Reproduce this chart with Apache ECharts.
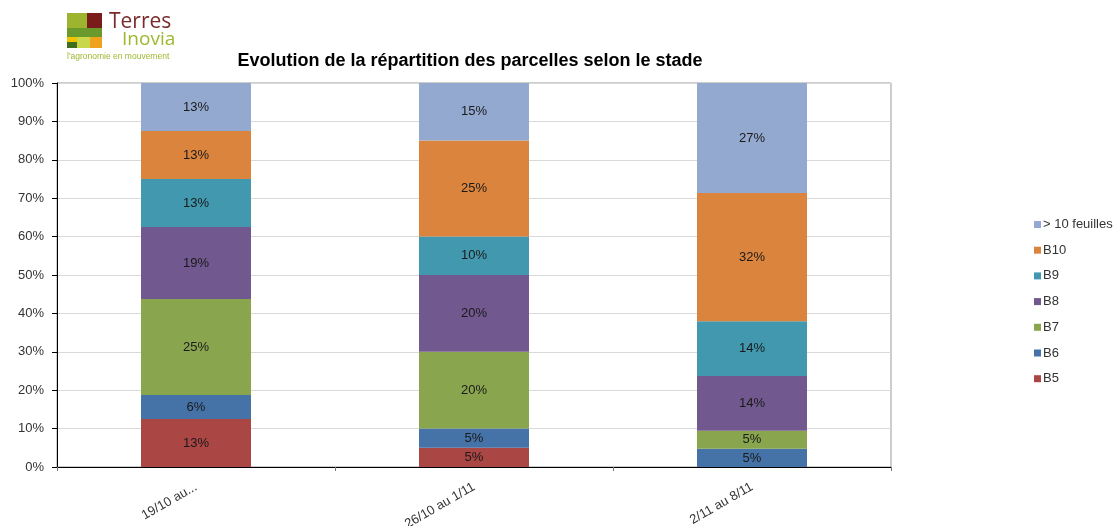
<!DOCTYPE html>
<html>
<head>
<meta charset="utf-8">
<script src="https://cdn.jsdelivr.net/npm/echarts@6/dist/echarts.min.js"></script>
<style>
html,body{margin:0;padding:0;background:#fff;}
#chart{width:1116px;height:526px;}
</style>
</head>
<body>
<div id="chart"></div>
<script>
// ---- Data (values as shown by the data labels, in %) ----
const categories = ['19/10 au...', '26/10 au 1/11', '2/11 au 8/11'];
const seriesNames = ['B5', 'B6', 'B7', 'B8', 'B9', 'B10', '> 10 feuilles'];
const b5 = [12.5, 5, 0];
const b6 = [6.25, 5, 4.5];
const b7 = [25, 20, 4.5];
const b8 = [18.75, 20, 13.6];
const b9 = [12.5, 10, 13.6];
const b10 = [12.5, 25, 31.8];
const over10 = [12.5, 15, 27.3];
const legendOrder = ['> 10 feuilles', 'B10', 'B9', 'B8', 'B7', 'B6', 'B5'];
const colors = ['#AA4643', '#4572A7', '#89A54E', '#71588F', '#4198AF', '#DB843D', '#93A9CF'];

const FONT = 'Liberation Sans, Arial, sans-serif';
const raw = [b5, b6, b7, b8, b9, b10, over10];
// 100% stacked: each category is scaled to a total of 100
const totals = categories.map((c, i) => raw.reduce((s, arr) => s + arr[i], 0));

const series = raw.map((arr, k) => ({
  name: seriesNames[k],
  type: 'bar',
  stack: 'total',
  barWidth: 110,
  itemStyle: { color: colors[k] },
  label: {
    show: true,
    position: 'inside',
    color: '#1a1a1a',
    fontFamily: FONT,
    fontSize: 13,
    formatter: p => raw[k][p.dataIndex] > 0 ? Math.round(raw[k][p.dataIndex]) + '%' : ''
  },
  data: arr.map((v, i) => v / totals[i] * 100)
}));

const chart = echarts.init(document.getElementById('chart'), null, { renderer: 'canvas' });
chart.setOption({
  animation: false,
  backgroundColor: '#ffffff',
  title: {
    text: 'Evolution de la répartition des parcelles selon le stade',
    left: 465, textAlign: 'center', top: 47,
    textStyle: { fontFamily: FONT, fontSize: 18, fontWeight: 'bold', color: '#000' }
  },
  legend: {
    orient: 'vertical',
    left: 1029, top: 212.5,
    itemWidth: 7, itemHeight: 7, itemGap: 11.7,
    icon: 'rect',
    data: legendOrder,
    textStyle: { fontFamily: FONT, fontSize: 13, color: '#333', lineHeight: 14, padding: [0, 0, 0, -3] }
  },
  grid: {
    left: 57, right: 225, top: 83, bottom: 59,
    outerBoundsMode: 'none', containLabel: false,
    show: true, borderColor: '#9a9a9a', borderWidth: 1, backgroundColor: 'transparent'
  },
  xAxis: {
    type: 'category',
    data: categories,
    axisLine: { lineStyle: { color: '#000', width: 1 } },
    axisTick: { show: true, length: 4, lineStyle: { color: '#777' } },
    axisLabel: {
      rotate: 30, margin: 19, interval: 0,
      fontFamily: FONT, fontSize: 13, color: '#333'
    }
  },
  yAxis: {
    type: 'value',
    min: 0, max: 100, interval: 10,
    axisLine: { show: true, lineStyle: { color: '#000', width: 1 } },
    axisTick: { show: true, length: 5, lineStyle: { color: '#000' } },
    axisLabel: {
      formatter: '{value}%', margin: 13,
      fontFamily: FONT, fontSize: 13, color: '#333'
    },
    splitLine: { lineStyle: { color: '#d9d9d9', width: 1 } }
  },
  graphic: [
    // Terres Inovia logo
    { type: 'rect', shape: { x: 67, y: 13, width: 20, height: 15 }, style: { fill: '#9DB42E' } },
    { type: 'rect', shape: { x: 87, y: 13, width: 15, height: 15 }, style: { fill: '#7A1C1C' } },
    { type: 'rect', shape: { x: 67, y: 28, width: 35, height: 9 }, style: { fill: '#6A9A2C' } },
    { type: 'rect', shape: { x: 67, y: 37, width: 10, height: 5 }, style: { fill: '#F2C400' } },
    { type: 'rect', shape: { x: 67, y: 42, width: 10, height: 6 }, style: { fill: '#3E6E1E' } },
    { type: 'rect', shape: { x: 77, y: 37, width: 13, height: 11 }, style: { fill: '#C8D84A' } },
    { type: 'rect', shape: { x: 90, y: 37, width: 12, height: 11 }, style: { fill: '#F0A21E' } },
    { type: 'text', left: 109, top: 12, style: { text: 'Terres', fill: '#7A2A2A', font: '21px "Open Sans", Lato, sans-serif' } },
    { type: 'text', left: 122, top: 30, style: { text: 'Inovia', fill: '#9CB92F', font: '19px "Open Sans", Lato, sans-serif' } },
    { type: 'text', left: 67, top: 52, style: { text: "l'agronomie en mouvement", fill: '#9CB92F', font: '8.5px "Liberation Sans", Arial, sans-serif' } }
  ],
  series: series
});
</script>
</body>
</html>
